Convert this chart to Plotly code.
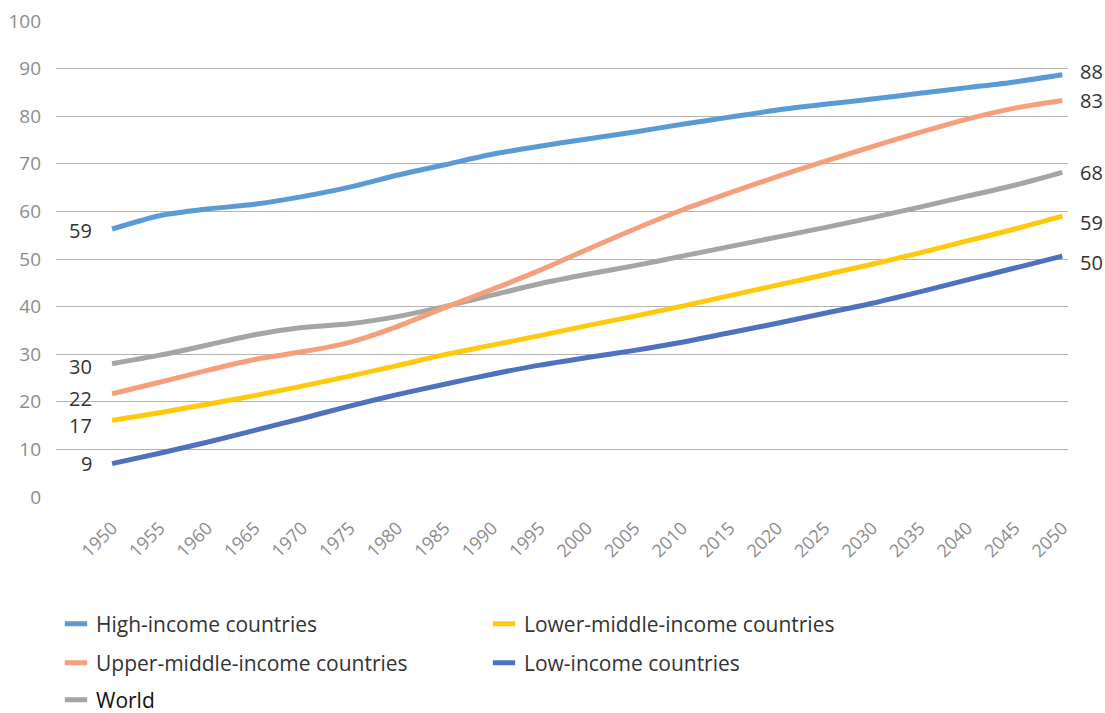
import plotly.graph_objects as go

years = list(range(1950, 2051, 5))
tick_labels = [str(y) for y in years]

high_income = [56.3, 59.1, 60.5, 61.5, 63.1, 65.1, 67.6, 69.8, 72.0, 73.7, 75.2, 76.7, 78.3, 79.8, 81.3, 82.5, 83.6, 84.8, 86.0, 87.2, 88.7]
upper_middle = [21.7, 24.1, 26.6, 28.9, 30.5, 32.5, 35.8, 39.8, 43.6, 47.6, 52.0, 56.3, 60.3, 63.9, 67.3, 70.5, 73.6, 76.6, 79.4, 81.7, 83.3]
world = [28.0, 29.8, 31.9, 34.1, 35.6, 36.4, 37.9, 40.0, 42.4, 44.8, 46.8, 48.6, 50.6, 52.6, 54.6, 56.6, 58.7, 60.9, 63.2, 65.5, 68.2]
lower_middle = [16.1, 17.7, 19.5, 21.3, 23.3, 25.4, 27.6, 29.9, 31.9, 33.9, 36.0, 38.0, 40.1, 42.3, 44.5, 46.7, 48.9, 51.3, 53.8, 56.3, 59.0]
low_income = [7.0, 9.2, 11.5, 14.0, 16.5, 19.1, 21.5, 23.7, 25.8, 27.7, 29.3, 30.8, 32.5, 34.5, 36.5, 38.6, 40.7, 43.1, 45.6, 48.1, 50.6]

series_names = ["High-income countries", "Lower-middle-income countries",
                "Upper-middle-income countries", "Low-income countries", "World"]
start_labels = ["59", "17", "22", "9", "30"]
end_labels = ["88", "59", "83", "50", "68"]

series_values = [high_income, lower_middle, upper_middle, low_income, world]
colors = ["#5B9BD5", "#FFC90E", "#F5A07A", "#4E72BE", "#A5A5A5"]
legend_ids = ["legend", "legend", "legend2", "legend2", "legend3"]
start_shift = [-1, -5, -5, 0, -3]
end_shift = [3, -6, 0, -6, 0]

fig = go.Figure()

order = [4, 3, 1, 2, 0]
for i in order:
    fig.add_trace(go.Scatter(
        x=years, y=series_values[i], mode="lines",
        line=dict(color=colors[i], width=5, shape="spline", smoothing=0.8),
        showlegend=False, hoverinfo="skip"))

for i in range(5):
    name = series_names[i]
    if name == "World":
        name = "<span style='color:#111111'>World</span>"
    fig.add_trace(go.Scatter(
        x=[None], y=[None], mode="markers", name=name,
        marker=dict(symbol="line-ew", size=16,
                    line=dict(color=colors[i], width=7)),
        legend=legend_ids[i], showlegend=True))

annotations = []
for i in range(5):
    annotations.append(dict(
        x=years[0], y=series_values[i][0], xref="x", yref="y",
        text=start_labels[i], showarrow=False, xanchor="right", yanchor="middle",
        xshift=-18, yshift=start_shift[i],
        font=dict(family="Open Sans", size=20, color="#333333")))
    annotations.append(dict(
        x=years[-1], y=series_values[i][-1], xref="x", yref="y",
        text=end_labels[i], showarrow=False, xanchor="left", yanchor="middle",
        xshift=16, yshift=end_shift[i],
        font=dict(family="Open Sans", size=20, color="#333333")))

legend_common = dict(orientation="h", x=0.0, xanchor="left", yanchor="middle",
                     entrywidth=383, entrywidthmode="pixels",
                     bgcolor="rgba(0,0,0,0)", itemsizing="trace",
                     font=dict(family="Open Sans", size=21, color="#333333"))

fig.update_layout(
    width=1105, height=713,
    margin=dict(l=56, r=37, t=21, b=216, autoexpand=False),
    paper_bgcolor="white", plot_bgcolor="white",
    font=dict(family="Open Sans", size=18, color="#8C8C8C"),
    xaxis=dict(range=[1944.1, 2050.6], tickvals=years, ticktext=tick_labels,
               tickangle=-45, showgrid=False, zeroline=False, showline=False,
               ticks="", tickfont=dict(size=18, color="#8C8C8C"),
               ticklabelstandoff=16, fixedrange=True, automargin=False),
    yaxis=dict(range=[0, 100], dtick=10, showgrid=True, gridcolor="#B4B4B4",
               gridwidth=1, zeroline=False, showline=False, ticks="",
               tickfont=dict(size=19, color="#8C8C8C"), ticklabelstandoff=14,
               fixedrange=True, automargin=False),
    legend=dict(y=-0.2668, **legend_common),
    legend2=dict(y=-0.3487, **legend_common),
    legend3=dict(y=-0.4265, **legend_common),
    annotations=annotations,
    showlegend=True,
)

fig.write_html("out.html", config={"displayModeBar": False},
               post_script="document.body.style.margin='0';")
